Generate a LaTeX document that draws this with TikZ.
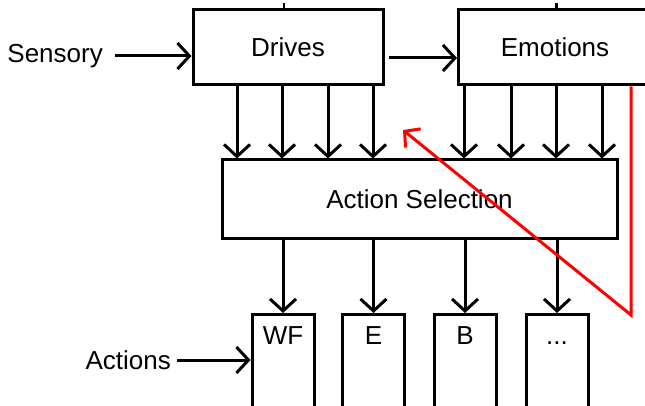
\documentclass[tikz,border=0pt]{standalone}
\usepackage{fontspec}
\setmainfont{Liberation Sans}
\usetikzlibrary{arrows.meta}

\tikzset{
  box/.style={draw, line width=3pt, inner sep=0pt, font=\fontsize{26}{30}\selectfont},
  actbox/.style={box, anchor=north, minimum width=62pt, text height=30pt, text depth=80pt},
  lbl/.style={inner sep=0pt, anchor=east, font=\fontsize{26}{30}\selectfont},
  arr/.style={line width=3pt, -{Straight Barb[length=12pt,width=26pt]}},
  redarr/.style={draw=red, line width=3pt, -{Straight Barb[length=11pt,width=24pt]}},
}

\begin{document}
\begin{tikzpicture}[x=1pt,y=-1pt]

		\useasboundingbox (0,0) rectangle (645,406);
		\clip (0,0) rectangle (645,406);

		% upper row (Emotions runs off the right edge)
		\node[box, minimum width=190pt, minimum height=75pt] (drives) at (288,47.5) {Drives};
		\node[box, minimum height=75pt, anchor=west] (emotions) at (457,47.5) {\makebox[193pt]{Emotions}\hspace*{40pt}};
		\node[box, minimum width=395pt, minimum height=78pt] (select) at (419.5,199) {Action Selection};

		% actions
		\node[actbox] (wf) at (283,313) {WF};
		\node[actbox] (e) at (373.5,313) {E};
		\node[actbox] (b) at (465,313) {B};
		\node[actbox] (dots) at (557,313) {...};

		\node[lbl] (sensory) at (103,56) {Sensory};
		\node[lbl] (actions) at (171,360) {Actions};

		\coordinate (bend) at (631,315);
		\coordinate (hit) at (403,130);

		\draw[line width=2pt] (drives.north -| 284,0) -- ++(0,-5);
		\draw[line width=3pt] (emotions.north -| 556,0) -- ++(0,-5);

		\draw[arr, shorten <=12pt] (sensory.east) -- (sensory.east -| drives.west);
		\draw[arr, shorten <=4pt] (drives.east |- 0,58) -- (emotions.west |- 0,58);
		\draw[arr, shorten <=6pt] (actions.east) -- (actions.east -| wf.west);

		\foreach \x in {237,282,328,373}
			\draw[arr] (drives.south -| \x,0) -- (select.north -| \x,0);
		\foreach \x in {464,511,556,602}
			\draw[arr] (emotions.south -| \x,0) -- (select.north -| \x,0);

		\foreach \a in {wf,e,b,dots}
			\draw[arr] (select.south -| \a.north) -- (\a.north);

		\draw[redarr] (emotions.south -| bend) -- (bend) -- (hit);

	\end{tikzpicture}
\end{document}
